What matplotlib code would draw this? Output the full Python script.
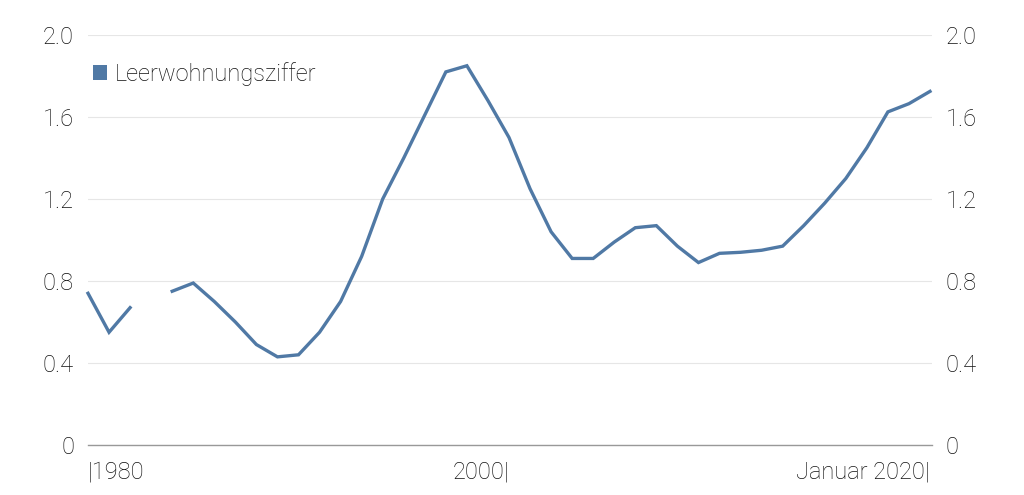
import matplotlib
matplotlib.use("Agg")
import matplotlib.pyplot as plt
from matplotlib.patches import Patch
import numpy as np

plt.rcParams['font.family'] = ['Roboto', 'DejaVu Sans']
plt.rcParams['font.weight'] = 'light'

years = list(range(1980, 2021))
values = [0.74, 0.55, 0.67, np.nan, 0.75, 0.79, 0.70, 0.60, 0.49, 0.43,
          0.44, 0.55, 0.70, 0.92, 1.20, 1.40, 1.61, 1.82, 1.85, 1.68,
          1.50, 1.25, 1.04, 0.91, 0.91, 0.99, 1.06, 1.07, 0.97, 0.89,
          0.935, 0.94, 0.95, 0.97, 1.07, 1.18, 1.30, 1.45, 1.625, 1.665,
          1.725]
series_name = "Leerwohnungsziffer"
ytick_values = [0, 0.4, 0.8, 1.2, 1.6, 2.0]
ytick_labels = ["0", "0.4", "0.8", "1.2", "1.6", "2.0"]
xtick_years = [1980, 2000, 2020]
xtick_labels = ["|1980", "2000|", "Januar 2020|"]
xtick_align = ["left", "right", "right"]

color = '#5079a5'
text_color = '#111111'

fig = plt.figure(figsize=(10.24, 4.95), dpi=100)
ax = fig.add_axes([88/1024, 50/495, 844/1024, 410/495])
ax.plot(years, values, color=color, lw=2.4, clip_on=False, solid_joinstyle='miter')
ax.set_xlim(1980, 1980 + 844/21.05)
ax.set_ylim(0, 2.0)
ax.set_yticks(ytick_values)
ax.set_yticklabels(ytick_labels)
ax.tick_params(axis='y', length=0, pad=10, labelsize=17, labelcolor=text_color,
               labelright=True, labelleft=True)
ax.set_xticks([])
ax.grid(axis='y', color='#e6e6e6', lw=0.8)
ax.set_axisbelow(True)
for s in ['top', 'right', 'left']:
    ax.spines[s].set_visible(False)
ax.spines['bottom'].set_color('#999999')
ax.spines['bottom'].set_linewidth(1.0)

for yr, lab, ha in zip(xtick_years, xtick_labels, xtick_align):
    ax.text(yr, -0.075, lab, ha=ha, va='top', fontsize=17, color=text_color,
            transform=ax.transData)

handle = Patch(facecolor=color, edgecolor='none')
ax.legend([handle], [series_name], loc='upper left', bbox_to_anchor=(-0.005, 0.958),
          frameon=False, fontsize=17, handlelength=0.6, handleheight=0.6,
          handletextpad=0.3, borderaxespad=0, labelcolor=text_color)

fig.savefig("out.png", dpi=100)
